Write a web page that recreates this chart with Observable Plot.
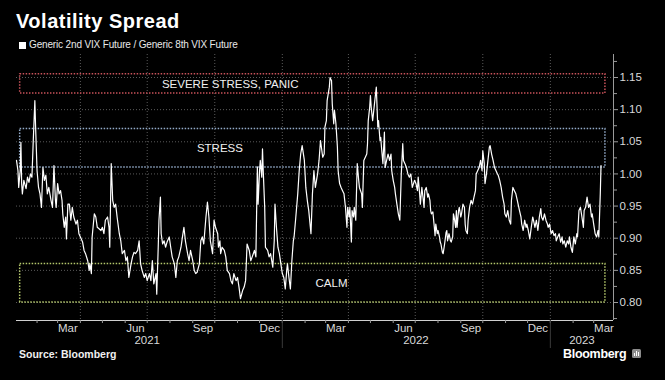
<!DOCTYPE html>
<html><head><meta charset="utf-8">
<script src="https://cdn.jsdelivr.net/npm/d3@7"></script>
<script src="https://cdn.jsdelivr.net/npm/@observablehq/plot@0.6"></script>
<style>
html,body{margin:0;padding:0;background:#000;}
#wrap{position:relative;width:665px;height:380px;background:#000;overflow:hidden;font-family:"Liberation Sans",Arial,sans-serif;color:#fff;}
#title{position:absolute;left:16px;top:10.5px;font-size:20px;font-weight:bold;line-height:20px;letter-spacing:0.5px;white-space:nowrap;}
#sw{position:absolute;left:19px;top:42px;width:7px;height:7px;background:#fff;}
#legend{position:absolute;left:29px;top:39.5px;font-size:10px;line-height:10px;letter-spacing:-0.15px;color:#e8e8e8;white-space:nowrap;}
#chart{position:absolute;left:0;top:50px;}
#source{position:absolute;left:19px;top:349px;font-size:10.5px;line-height:10.5px;font-weight:bold;color:#f0f0f0;white-space:nowrap;}
#logo{position:absolute;left:563px;top:348.5px;font-size:12.5px;line-height:11px;font-weight:bold;letter-spacing:-0.3px;color:#fff;white-space:nowrap;}
#icon{position:absolute;left:632px;top:349px;width:9px;height:9px;background:#8c8c8c;border-radius:1.5px;}
#icon i{position:absolute;bottom:2px;width:1.2px;background:#fff;}
</style></head>
<body><div id="wrap">
<div id="title">Volatility Spread</div>
<div id="sw"></div><div id="legend">Generic 2nd VIX Future / Generic 8th VIX Future</div>
<div id="chart"></div>
<div id="source">Source: Bloomberg</div>
<div id="logo">Bloomberg</div>
<div id="icon"><i style="left:2px;height:3px"></i><i style="left:4px;height:5px"></i><i style="left:6px;height:4px"></i></div>
</div>
<script>
const dates = [
"2021-01-04","2021-01-06","2021-01-07","2021-01-09","2021-01-10","2021-01-11","2021-01-12","2021-01-14","2021-01-17","2021-01-19",
"2021-01-21","2021-01-23","2021-01-25","2021-01-27","2021-01-29","2021-01-30","2021-02-01","2021-02-03","2021-02-05","2021-02-07",
"2021-02-09","2021-02-11","2021-02-13","2021-02-15","2021-02-17","2021-02-20","2021-02-22","2021-02-24","2021-02-26","2021-02-27",
"2021-03-01","2021-03-03","2021-03-05","2021-03-07","2021-03-08","2021-03-10","2021-03-12","2021-03-13","2021-03-15","2021-03-17",
"2021-03-19","2021-03-21","2021-03-23","2021-03-26","2021-03-28","2021-03-30","2021-04-01","2021-04-04","2021-04-06","2021-04-08",
"2021-04-11","2021-04-13","2021-04-14","2021-04-16","2021-04-17","2021-04-20","2021-04-22","2021-04-24","2021-04-26","2021-04-29",
"2021-05-01","2021-05-03","2021-05-05","2021-05-08","2021-05-10","2021-05-11","2021-05-13","2021-05-15","2021-05-17","2021-05-19",
"2021-05-21","2021-05-24","2021-05-26","2021-05-28","2021-05-31","2021-06-02","2021-06-04","2021-06-06","2021-06-09","2021-06-11",
"2021-06-13","2021-06-15","2021-06-18","2021-06-20","2021-06-22","2021-06-24","2021-06-27","2021-06-29","2021-07-01","2021-07-04",
"2021-07-06","2021-07-08","2021-07-10","2021-07-13","2021-07-14","2021-07-16","2021-07-17","2021-07-19","2021-07-20","2021-07-22",
"2021-07-24","2021-07-26","2021-07-28","2021-07-31","2021-08-02","2021-08-04","2021-08-07","2021-08-09","2021-08-11","2021-08-13",
"2021-08-16","2021-08-18","2021-08-20","2021-08-22","2021-08-25","2021-08-27","2021-08-29","2021-09-01","2021-09-03","2021-09-05",
"2021-09-07","2021-09-10","2021-09-12","2021-09-14","2021-09-16","2021-09-19","2021-09-21","2021-09-23","2021-09-25","2021-09-28",
"2021-09-30","2021-10-02","2021-10-05","2021-10-06","2021-10-08","2021-10-09","2021-10-11","2021-10-14","2021-10-16","2021-10-18",
"2021-10-21","2021-10-23","2021-10-25","2021-10-27","2021-10-30","2021-11-01","2021-11-03","2021-11-05","2021-11-08","2021-11-10",
"2021-11-12","2021-11-14","2021-11-17","2021-11-19","2021-11-21","2021-11-24","2021-11-26","2021-11-28","2021-11-29","2021-12-01",
"2021-12-02","2021-12-04","2021-12-05","2021-12-06","2021-12-08","2021-12-09","2021-12-12","2021-12-14","2021-12-16","2021-12-19",
"2021-12-21","2021-12-22","2021-12-24","2021-12-26","2021-12-28","2021-12-30","2022-01-01","2022-01-03","2022-01-05","2022-01-07",
"2022-01-08","2022-01-10","2022-01-12","2022-01-14","2022-01-16","2022-01-17","2022-01-19","2022-01-22","2022-01-24","2022-01-26",
"2022-01-28","2022-01-31","2022-02-02","2022-02-04","2022-02-06","2022-02-09","2022-02-11","2022-02-13","2022-02-15","2022-02-18",
"2022-02-20","2022-02-22","2022-02-25","2022-02-27","2022-02-28","2022-03-02","2022-03-03","2022-03-06","2022-03-07","2022-03-09",
"2022-03-10","2022-03-12","2022-03-13","2022-03-15","2022-03-17","2022-03-18","2022-03-20","2022-03-22","2022-03-24","2022-03-26",
"2022-03-28","2022-03-30","2022-03-31","2022-04-02","2022-04-03","2022-04-05","2022-04-06","2022-04-08","2022-04-09","2022-04-11",
"2022-04-13","2022-04-15","2022-04-16","2022-04-19","2022-04-20","2022-04-22","2022-04-24","2022-04-26","2022-04-27","2022-04-28",
"2022-04-30","2022-05-01","2022-05-02","2022-05-04","2022-05-05","2022-05-06","2022-05-08","2022-05-09","2022-05-11","2022-05-12",
"2022-05-14","2022-05-15","2022-05-16","2022-05-18","2022-05-20","2022-05-21","2022-05-23","2022-05-25","2022-05-27","2022-05-29",
"2022-05-30","2022-06-01","2022-06-03","2022-06-04","2022-06-06","2022-06-08","2022-06-10","2022-06-12","2022-06-14","2022-06-15",
"2022-06-17","2022-06-19","2022-06-21","2022-06-23","2022-06-25","2022-06-27","2022-06-30","2022-07-02","2022-07-04","2022-07-05",
"2022-07-07","2022-07-08","2022-07-10","2022-07-12","2022-07-13","2022-07-14","2022-07-16","2022-07-18","2022-07-19","2022-07-21",
"2022-07-22","2022-07-23","2022-07-25","2022-07-27","2022-07-28","2022-07-29","2022-07-31","2022-08-01","2022-08-03","2022-08-04",
"2022-08-05","2022-08-07","2022-08-08","2022-08-10","2022-08-12","2022-08-13","2022-08-14","2022-08-16","2022-08-18","2022-08-19",
"2022-08-21","2022-08-22","2022-08-23","2022-08-25","2022-08-26","2022-08-27","2022-08-29","2022-08-30","2022-09-01","2022-09-02",
"2022-09-04","2022-09-06","2022-09-07","2022-09-08","2022-09-10","2022-09-11","2022-09-13","2022-09-15","2022-09-17","2022-09-19",
"2022-09-21","2022-09-22","2022-09-24","2022-09-26","2022-09-28","2022-09-30","2022-10-01","2022-10-03","2022-10-04","2022-10-06",
"2022-10-08","2022-10-10","2022-10-11","2022-10-13","2022-10-15","2022-10-17","2022-10-19","2022-10-21","2022-10-22","2022-10-24",
"2022-10-26","2022-10-28","2022-10-30","2022-10-31","2022-11-02","2022-11-04","2022-11-06","2022-11-08","2022-11-09","2022-11-11",
"2022-11-13","2022-11-15","2022-11-17","2022-11-20","2022-11-22","2022-11-23","2022-11-25","2022-11-27","2022-11-29","2022-11-30",
"2022-12-02","2022-12-04","2022-12-06","2022-12-08","2022-12-09","2022-12-11","2022-12-13","2022-12-15","2022-12-17","2022-12-19",
"2022-12-20","2022-12-22","2022-12-24","2022-12-26","2022-12-28","2022-12-29","2022-12-31","2023-01-02","2023-01-04","2023-01-06",
"2023-01-08","2023-01-09","2023-01-11","2023-01-13","2023-01-15","2023-01-17","2023-01-18","2023-01-20","2023-01-22","2023-01-24",
"2023-01-26","2023-01-27","2023-01-29","2023-01-31","2023-02-02","2023-02-04","2023-02-06","2023-02-07","2023-02-09","2023-02-11",
"2023-02-13","2023-02-15","2023-02-16","2023-02-18","2023-02-20","2023-02-22","2023-02-24","2023-02-26","2023-02-27","2023-03-01",
"2023-03-03","2023-03-05","2023-03-07","2023-03-08","2023-03-10","2023-03-11"
];
const spread = [
1.021,1.005,0.979,1.005,1.049,0.985,0.969,0.990,0.977,0.995,
0.987,1.000,0.995,1.057,1.114,1.073,1.005,0.979,0.969,0.948,
1.010,0.990,0.998,0.969,0.979,0.959,0.948,1.013,0.959,0.948,
0.985,0.969,0.974,0.959,0.938,0.917,0.933,0.899,0.953,0.953,
0.928,0.948,0.933,0.922,0.928,0.907,0.902,0.894,0.881,0.876,
0.865,0.850,0.860,0.845,0.902,0.938,0.933,0.917,0.915,0.912,
0.917,0.907,0.928,0.933,0.917,0.886,1.016,0.959,0.948,0.953,
0.933,0.907,0.896,0.876,0.881,0.865,0.871,0.839,0.860,0.871,
0.878,0.876,0.881,0.896,0.860,0.850,0.839,0.845,0.834,0.845,
0.834,0.865,0.829,0.845,0.813,0.886,0.928,0.964,0.907,0.891,
0.896,0.886,0.894,0.902,0.886,0.871,0.860,0.839,0.865,0.871,
0.886,0.902,0.917,0.896,0.876,0.865,0.881,0.865,0.850,0.845,
0.847,0.860,0.896,0.902,0.891,0.933,0.956,0.933,0.896,0.876,
0.928,0.917,0.907,0.886,0.896,0.876,0.886,0.881,0.871,0.850,
0.845,0.834,0.829,0.845,0.834,0.839,0.824,0.806,0.819,0.824,
0.834,0.891,0.881,0.865,0.871,0.881,0.871,1.011,0.953,1.005,
1.021,0.995,1.039,1.005,0.948,0.886,0.881,0.871,0.876,0.855,
0.896,0.953,0.917,0.886,0.876,0.860,0.845,0.839,0.821,0.850,
0.860,0.839,0.821,0.865,0.896,0.902,0.928,0.969,1.005,1.031,
1.044,1.021,0.979,0.959,0.943,0.907,0.969,1.005,0.979,1.000,
1.021,1.052,1.026,1.031,1.073,1.083,1.114,1.135,1.150,1.145,
1.109,1.078,1.099,1.078,1.042,1.005,0.985,0.979,0.974,0.969,
0.948,0.917,0.948,0.933,0.948,0.894,0.943,0.933,0.948,0.928,
1.016,0.990,0.979,0.969,0.948,1.021,1.026,1.031,1.047,1.083,
1.104,1.122,1.104,1.083,1.093,1.104,1.125,1.135,1.073,1.083,
1.052,1.057,1.042,1.016,1.065,1.010,1.021,1.031,1.021,1.031,
1.005,0.990,0.979,0.969,0.953,0.938,0.928,1.000,1.047,1.021,
1.016,1.010,1.000,0.995,1.000,0.979,0.990,0.985,0.974,0.995,
0.969,0.953,0.979,0.959,0.948,0.974,0.979,0.964,0.969,0.959,
0.943,0.938,0.941,0.917,0.904,0.922,0.907,0.912,0.902,0.894,
0.891,0.878,0.876,0.891,0.909,0.912,0.896,0.907,0.896,0.894,
0.902,0.938,0.933,0.917,0.943,0.917,0.943,0.948,0.933,0.938,
0.953,0.948,0.922,0.912,0.907,0.928,0.948,0.959,0.953,0.964,
0.974,1.000,1.005,1.010,1.021,1.005,1.036,1.016,0.985,1.000,
1.021,1.042,1.044,1.031,1.021,1.010,1.005,1.000,0.998,0.990,
0.979,0.964,0.953,0.938,0.933,0.943,0.928,0.922,0.959,0.979,
0.974,0.969,0.959,0.943,0.933,0.922,0.912,0.928,0.917,0.922,
0.912,0.899,0.917,0.933,0.928,0.917,0.928,0.912,0.933,0.946,
0.933,0.928,0.938,0.928,0.922,0.917,0.922,0.907,0.912,0.904,
0.907,0.896,0.902,0.907,0.894,0.902,0.891,0.896,0.886,0.896,
0.891,0.902,0.886,0.878,0.902,0.891,0.907,0.902,0.943,0.948,
0.933,0.917,0.943,0.948,0.964,0.948,0.953,0.933,0.938,0.922,
0.907,0.902,0.912,0.902,0.969,1.013
];
const zoneNames = ["SEVERE STRESS, PANIC", "STRESS", "CALM"];
const zoneLow = [1.125, 1.01, 0.80];
const zoneHigh = [1.155, 1.07, 0.86];
const zoneLabelDates = ["2021-10-22", "2021-10-08", "2022-03-09"];
const zoneSpan = ["2021-01-09", "2023-03-17"];
const xDomain = ["2021-01-04", "2023-03-28"];
const yTicks = [0.80, 0.85, 0.90, 0.95, 1.00, 1.05, 1.10, 1.15];
const yMinorTicks = [0.775, 0.825, 0.875, 0.925, 0.975, 1.025, 1.075, 1.125, 1.175];
const monthLabelDates = ["2021-03-15","2021-06-15","2021-09-15","2021-12-15","2022-03-15","2022-06-15","2022-09-15","2022-12-15","2023-03-15"];
const monthLabels = ["Mar","Jun","Sep","Dec","Mar","Jun","Sep","Dec","Mar"];
const yearLabelDates = ["2021-07-01","2022-07-02","2023-02-13"];
const yearLabels = ["2021","2022","2023"];
const yearStarts = ["2022-01-01","2023-01-01"];

const FONT = '"Liberation Sans",Arial,sans-serif';
const parse = d3.utcParse("%Y-%m-%d");
const series = dates.map((d, i) => ({date: parse(d), value: spread[i]}));
const zones = zoneNames.map((n, i) => ({name: n, lo: zoneLow[i], hi: zoneHigh[i], label: parse(zoneLabelDates[i])}));
const zs = parse(zoneSpan[0]), ze = parse(zoneSpan[1]);
const x0 = parse(xDomain[0]), x1 = parse(xDomain[1]);
const months = d3.utcMonth.range(x0, x1);
const quarters = d3.utcMonth.every(3).range(x0, x1);
const mLabels = monthLabelDates.map((d, i) => ({date: parse(d), text: monthLabels[i]}));
const yLabels = yearLabelDates.map((d, i) => ({date: parse(d), text: yearLabels[i]}));
const blank = () => "";

const chart = Plot.plot({
  width: 665, height: 300,
  marginLeft: 16, marginRight: 52, marginTop: 4, marginBottom: 30,
  style: {background: "transparent", color: "#d9d9d9", fontFamily: FONT, fontSize: "11.5px"},
  x: {type: "utc", domain: [x0, x1]},
  y: {domain: [0.772, 1.1858]},
  color: {domain: zoneNames, range: ["#c8525a", "#93abc9", "#b4c76b"]},
  marks: [
    Plot.gridY(yTicks, {stroke: "#5a5a5a", strokeOpacity: 1, strokeDasharray: "1,2"}),
    Plot.gridX(quarters, {stroke: "#5a5a5a", strokeOpacity: 1, strokeDasharray: "1,2"}),
    Plot.rect(zones, {x1: () => zs, x2: () => ze, y1: "lo", y2: "hi", stroke: "name", fill: "none", strokeWidth: 1.5, strokeDasharray: "1.5,1.5"}),
    Plot.text(zones, {x: "label", y: d => (d.lo + d.hi) / 2, text: "name", fill: "#f0f0f0", fontSize: 11.5}),
    Plot.lineY(series, {x: "date", y: "value", stroke: "#ffffff", strokeWidth: 1.2}),
    Plot.ruleX([x1], {stroke: "#9a9a9a"}),
    Plot.axisY(yTicks, {anchor: "right", tickSize: 4, tickPadding: 2, tickFormat: d3.format(".2f"), stroke: "#9a9a9a", fill: "#d9d9d9", fontSize: 11.5}),
    Plot.axisY(yMinorTicks, {anchor: "right", tickSize: 3, tickFormat: blank, stroke: "#9a9a9a"}),
    Plot.ruleY([0.772], {stroke: "#d0d0d0"}),
    Plot.axisX(months, {anchor: "bottom", tickSize: 3, tickFormat: blank, stroke: "#9a9a9a"}),
    Plot.axisX(yearStarts.map(parse), {anchor: "bottom", tickSize: 28, tickFormat: blank, stroke: "#3a3a3a"}),
    Plot.text(mLabels, {x: "date", text: "text", frameAnchor: "bottom", lineAnchor: "top", dy: 3.5, fill: "#d9d9d9", fontSize: 11.5}),
    Plot.text(yLabels, {x: "date", text: "text", frameAnchor: "bottom", lineAnchor: "top", dy: 15, fill: "#d9d9d9", fontSize: 11.5})
  ]
});
document.getElementById("chart").appendChild(chart);
</script>
</body></html>
